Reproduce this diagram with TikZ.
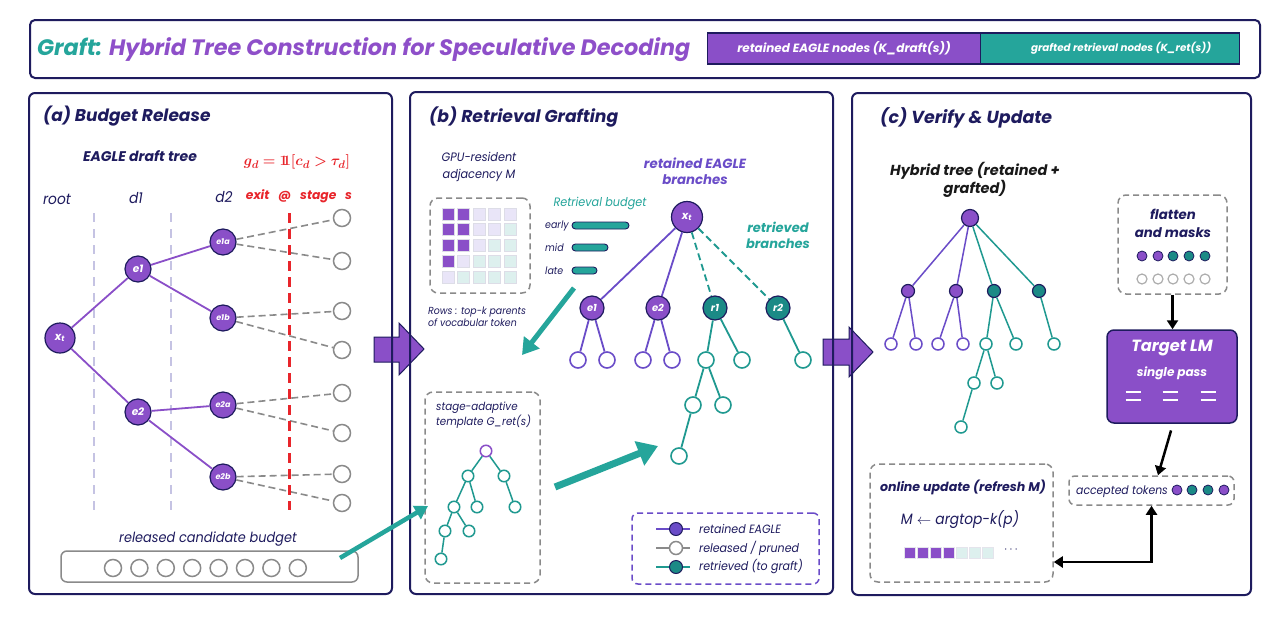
\documentclass[tikz,border=0pt]{standalone}
\usepackage{fontspec}
\setmainfont{Poppins}[ItalicFeatures={FakeStretch=0.92}]
\usepackage{amsmath,bm}
\usetikzlibrary{arrows.meta,calc}
\definecolor{navy}{HTML}{1E1B5E}
\definecolor{purp}{HTML}{8A4FC8}
\definecolor{bpurp}{HTML}{6A4CC8}
\definecolor{tealA}{HTML}{25A59B}
\definecolor{tealD}{HTML}{1B8A86}
\definecolor{tealE}{HTML}{1F9990}
\definecolor{gry}{HTML}{8A8A8A}
\definecolor{redx}{HTML}{E8252B}
\definecolor{dashv}{HTML}{C5C3E3}
\definecolor{lav}{HTML}{E9E5F8}
\definecolor{lteal}{HTML}{DDF0EE}
\definecolor{titlepurp}{HTML}{8E4FC9}
\newcommand\fs[2]{\fontsize{#1}{#2}\selectfont}
\begin{document}
\begin{tikzpicture}[x=1pt,y=-1pt,
 panel/.style={draw=navy, line width=2, rounded corners=6},
 pn/.style={circle, fill=purp, draw=navy, line width=1.2, inner sep=0, minimum size=26, text=white, font=\fs{9}{9}\bfseries\itshape},
 tn/.style={pn, fill=tealD},
 gl/.style={circle, draw=gry, fill=white, line width=1.5, inner sep=0, minimum size=17},
 pl/.style={circle, draw=bpurp, fill=white, line width=1.6, inner sep=0, minimum size=16},
 tl/.style={pl, draw=tealE},
 pe/.style={draw=purp, line width=1.8},
 be/.style={draw=bpurp, line width=1.8},
 te/.style={draw=tealE, line width=1.8},
 ge/.style={draw=gry, line width=1.6, dash pattern=on 7pt off 4pt},
 dbox/.style={draw=gry, line width=1.5, dash pattern=on 6pt off 4pt, rounded corners=8},
 lbl/.style={inner sep=0, text=navy},
 blk/.style={draw=black, line width=2.5, -{Triangle[length=9pt,width=11pt]}},
 cell/.style={draw=navy!15, line width=0.6, minimum size=12, inner sep=0},
]
\useasboundingbox (0,0) rectangle (1272,616);
\fill[white] (0,0) rectangle (1272,616);

% ---------- title bar
\draw[navy, line width=2, rounded corners=5] (30,20) rectangle (1260,78);
\node[anchor=west, inner sep=0, font=\fs{22.3}{26}\bfseries\itshape] (title) at (37,50)
 {\textcolor{tealA}{Graft:} \textcolor{titlepurp}{Hybrid Tree Construction for Speculative Decoding}};
\node[draw=navy, fill=purp, line width=1.2, minimum width=273, minimum height=31, anchor=west, inner sep=0,
  text=white, font=\fs{12}{14}\bfseries\itshape] (kd) at (707,48.5) {retained EAGLE nodes (K\_draft(s))};
\node[draw=navy, fill=tealA, line width=1.2, minimum width=259, minimum height=31, anchor=west, inner sep=0,
  text=white, font=\fs{10.3}{13}\bfseries\itshape] (kr) at (980,48.5) {\hspace*{22pt}grafted retrieval nodes (K\_ret(s))};

% ---------- block arrows (under panel borders)
\fill[purp] (374,337) -- (399,337) -- (399,323) -- (424,349) -- (399,375) -- (399,362) -- (374,362) -- cycle;
\draw[navy, line width=1] (374,337) -- (399,337) -- (399,323) -- (424,349) -- (399,375) -- (399,362) -- (374,362) -- cycle;
\fill[purp] (823,339) -- (849,339) -- (849,327) -- (873,352) -- (849,377) -- (849,365) -- (823,365) -- cycle;
\draw[navy, line width=1] (823,339) -- (849,339) -- (849,327) -- (873,352) -- (849,377) -- (849,365) -- (823,365) -- cycle;

% ---------- panels
\draw[panel] (29,93) rectangle (392,594);
\draw[panel] (410,92) rectangle (833,594);
\draw[panel] (852,93) rectangle (1251,595);

% ================= (a)
\node[lbl, anchor=west, font=\fs{17}{20}\bfseries\itshape] (ta) at (43,116) {(a) Budget Release};
\node[lbl, font=\fs{14}{17}\bfseries\itshape] (eag) at (140,156) {EAGLE draft tree};
\node[lbl, text=redx, font=\fs{15}{17}] (gd) at (297,162) {$\bm{g_d = 1\!\!1[c_d > \tau_d]}$};
\node[lbl, font=\fs{15}{17}\itshape] (lroot) at (57,199) {root};
\node[lbl, font=\fs{15}{17}\itshape] (ld1) at (136,198) {d1};
\node[lbl, font=\fs{15}{17}\itshape] (ld2) at (224,197) {d2};
\node[lbl, text=redx, font=\fs{12.3}{15}\bfseries\itshape] (lexit) at (299,196) {exit\hspace{6pt} @\hspace{6pt} stage\hspace{6pt} s};

\draw[dashv, line width=2.5, dash pattern=on 9pt off 7pt] (94,213) -- (94,510);
\draw[dashv, line width=2.5, dash pattern=on 9pt off 7pt] (171,213) -- (171,510);

\node[pn, minimum size=30, font=\fs{11}{11}\bfseries\itshape] (axt) at (60,338) {x\textsubscript{t}};
\node[pn, font=\fs{10.5}{10}\bfseries\itshape] (ae1) at (138,269) {e1};
\node[pn, font=\fs{10.5}{10}\bfseries\itshape] (ae2) at (138,412) {e2};
\node[pn, font=\fs{8}{8}\bfseries\itshape] (ae1a) at (223,242) {e1a};
\node[pn, font=\fs{8}{8}\bfseries\itshape] (ae1b) at (223,318) {e1b};
\node[pn, font=\fs{8}{8}\bfseries\itshape] (ae2a) at (223,405) {e2a};
\node[pn, font=\fs{8}{8}\bfseries\itshape] (ae2b) at (223,477) {e2b};
\foreach \i/\y in {1/218,2/261,3/311,4/350,5/393,6/433,7/474,8/503}
  \node[gl] (g\i) at (342,\y) {};
\draw[pe] (axt) -- (ae1); \draw[pe] (axt) -- (ae2);
\draw[pe] (ae1) -- (ae1a); \draw[pe] (ae1) -- (ae1b);
\draw[pe] (ae2) -- (ae2a); \draw[pe] (ae2) -- (ae2b);
\draw[ge] (ae1a) -- (g1); \draw[ge] (ae1a) -- (g2);
\draw[ge] (ae1b) -- (g3); \draw[ge] (ae1b) -- (g4);
\draw[ge] (ae2a) -- (g5); \draw[ge] (ae2a) -- (g6);
\draw[ge] (ae2b) -- (g7); \draw[ge] (ae2b) -- (g8);
\draw[redx, line width=3, dash pattern=on 10pt off 6pt] (289,213) -- (289,510);

\node[lbl, font=\fs{14}{16}\itshape] (lrel) at (208,539) {released candidate budget};
\node[draw=gry, line width=1.5, rounded corners=6, minimum width=297, minimum height=31, inner sep=0] (budget) at (209.5,566.5) {};
\foreach \i in {0,...,7}
  \node[gl] (b\i) at ({113+26.4*\i},568) {};

% ================= (b)
\node[lbl, anchor=west, font=\fs{17.2}{20}\bfseries\itshape] (tb) at (429,117) {(b) Retrieval Grafting};
\node[lbl, align=center, font=\fs{12.2}{17}\itshape] (gpu) at (479,167) {GPU-resident\\adjacency M};
\node[dbox, minimum width=100, minimum height=95, inner sep=0] (mbox) at (480,245.5) {};
\foreach \r/\a/\b/\c/\d/\e in {1/purp/purp/lav/lav/lav,2/purp/purp/lav/lav/lteal,3/purp/purp/lav/lteal/lteal,4/purp/lav/lteal/lteal/lteal,5/lav/lteal/lteal/lteal/lteal}{
  \node[cell, fill=\a] (m\r a) at (448,{214+15.7*(\r-1)}) {};
  \node[cell, fill=\b] (m\r b) at (463.5,{214+15.7*(\r-1)}) {};
  \node[cell, fill=\c] (m\r c) at (479,{214+15.7*(\r-1)}) {};
  \node[cell, fill=\d] (m\r d) at (494.5,{214+15.7*(\r-1)}) {};
  \node[cell, fill=\e] (m\r e) at (510,{214+15.7*(\r-1)}) {};
}
\node[lbl, anchor=west, align=left, font=\fs{10.2}{12.5}\itshape] (rows) at (428,317) {Rows : top-k parents\\of vocabular token};

\node[lbl, text=tealA, font=\fs{12.2}{15}\itshape] (rb) at (600,204) {Retrieval budget};
\node[lbl, anchor=west, font=\fs{10.3}{13}\itshape] (learly) at (545,226) {early};
\node[lbl, anchor=west, font=\fs{10.3}{13}\itshape] (lmid) at (545,248) {mid};
\node[lbl, anchor=west, font=\fs{10.3}{13}\itshape] (llate) at (545,271) {late};
\draw[fill=tealA, draw=navy, line width=0.9, rounded corners=3.5] (572,222) rectangle (629,229);
\draw[fill=tealA, draw=navy, line width=0.9, rounded corners=3.5] (572,244) rectangle (608,251);
\draw[fill=tealA, draw=navy, line width=0.9, rounded corners=3.5] (572,267) rectangle (597,274);

\node[lbl, text=bpurp, align=center, font=\fs{13.3}{16}\bfseries\itshape] (ret) at (695,171) {retained EAGLE\\branches};
\node[lbl, text=tealA, align=center, font=\fs{13}{16}\bfseries\itshape] (retr) at (778,235) {retrieved\\branches};

\node[pn, minimum size=31, font=\fs{11}{11}\bfseries\itshape] (bxt) at (687,217) {x\textsubscript{t}};
\node[pn, minimum size=24, font=\fs{10}{10}\bfseries\itshape] (be1) at (592,308) {e1};
\node[pn, minimum size=24, font=\fs{10}{10}\bfseries\itshape] (be2) at (658,308) {e2};
\node[tn, minimum size=24, font=\fs{10}{10}\bfseries\itshape] (br1) at (715,308) {r1};
\node[tn, minimum size=24, font=\fs{10}{10}\bfseries\itshape] (br2) at (778,308) {r2};
\node[pl] (bl1) at (578,360) {};
\node[pl] (bl2) at (607,360) {};
\node[pl] (bl3) at (643,360) {};
\node[pl] (bl4) at (672,360) {};
\node[tl] (bl5) at (706,360) {};
\node[tl] (bl6) at (742,360) {};
\node[tl] (bl7) at (803,360) {};
\node[tl] (bl8) at (693,405) {};
\node[tl] (bl9) at (723,405) {};
\node[tl] (bl10) at (679,456) {};
\draw[be] (bxt) -- (be1); \draw[be] (bxt) -- (be2);
\draw[te, dash pattern=on 7pt off 4pt] (bxt) -- (br1);
\draw[te, dash pattern=on 7pt off 4pt] (bxt) -- (br2);
\draw[be] (be1) -- (bl1); \draw[be] (be1) -- (bl2);
\draw[be] (be2) -- (bl3); \draw[be] (be2) -- (bl4);
\draw[te] (br1) -- (bl5); \draw[te] (br1) -- (bl6);
\draw[te] (br2) -- (bl7);
\draw[te] (bl5) -- (bl8); \draw[te] (bl5) -- (bl9);
\draw[te] (bl8) -- (bl10);

% template
\node[dbox, minimum width=115, minimum height=191, inner sep=0] (tpl) at (482.5,487.5) {};
\node[lbl, anchor=west, align=left, font=\fs{11.2}{15}\itshape] (tpltxt) at (436,415.5) {stage-adaptive\\template G\_ret(s)};
\begin{scope}[every node/.style={circle, draw=tealE, fill=white, line width=1.5, inner sep=0, minimum size=11.5}]
\node[draw=purp] (tt0) at (486,451) {};
\node (tt1) at (468,476) {};
\node (tt2) at (504,476) {};
\node (tt3) at (454,507) {};
\node (tt4) at (477,507) {};
\node (tt5) at (515,507) {};
\node (tt6) at (445,531) {};
\node (tt7) at (469,531) {};
\node (tt8) at (441,559) {};
\end{scope}
\foreach \a/\b in {tt0/tt1,tt0/tt2,tt1/tt3,tt1/tt4,tt2/tt5,tt3/tt6,tt3/tt7,tt6/tt8}
  \draw[te, line width=1.5] (\a) -- (\b);

% teal arrows
\coordinate (budOut) at (340,558);
\coordinate (tplIn) at (428,506);
\draw[tealA, line width=4.5, -{Triangle[length=13pt,width=15pt]}] (budOut) -- (tplIn);
\coordinate (rbOut) at (574,288);
\coordinate (rbIn) at (522,355);
\draw[tealA, line width=5, -{Triangle[length=16pt,width=19pt]}] (rbOut) -- (rbIn);
\coordinate (tplOut) at (555,487);
\coordinate (graftIn) at (658,446);
\draw[tealA, line width=7, -{Triangle[length=20pt,width=25pt]}] (tplOut) -- (graftIn);

% legend
\node[draw=bpurp, line width=1.5, dash pattern=on 6pt off 4pt, rounded corners=6, minimum width=187, minimum height=71, inner sep=0] (leg) at (725.5,548.5) {};
\draw[bpurp, line width=1.8] (656,529) -- (690,529);
\node[circle, fill=bpurp, draw=navy, line width=1, minimum size=13, inner sep=0] (lg1) at (676,529) {};
\draw[gry, line width=1.8] (656,548) -- (690,548);
\node[circle, fill=white, draw=gry, line width=1.5, minimum size=13, inner sep=0] (lg2) at (676,548) {};
\draw[tealE, line width=1.8] (656,567) -- (690,567);
\node[circle, fill=tealD, draw=navy, line width=1, minimum size=13, inner sep=0] (lg3) at (676,567) {};
\node[lbl, anchor=west, font=\fs{12}{14}\itshape] (lt1) at (699,529) {retained EAGLE};
\node[lbl, anchor=west, font=\fs{12}{14}\itshape] (lt2) at (699,548) {released / pruned};
\node[lbl, anchor=west, font=\fs{12}{14}\itshape] (lt3) at (699,567) {retrieved (to graft)};

% ================= (c)
\node[lbl, anchor=west, font=\fs{17.4}{20}\bfseries\itshape] (tc) at (880,118) {(c) Verify \& Update};
\node[lbl, text=black!90, align=center, font=\fs{14.5}{18}\bfseries\itshape] (hyb) at (975,180) {Hybrid tree (retained +\\grafted)};
\node[pn, minimum size=17] (hroot) at (970,218) {};
\node[pn, minimum size=13] (hc1) at (908,291) {};
\node[pn, minimum size=13] (hc2) at (956,291) {};
\node[tn, minimum size=13] (hc3) at (994,291) {};
\node[tn, minimum size=13] (hc4) at (1039,291) {};
\begin{scope}[every node/.style={circle, fill=white, line width=1.5, inner sep=0, minimum size=12}]
\node[draw=bpurp] (hl1) at (891,344) {};
\node[draw=bpurp] (hl2) at (916,344) {};
\node[draw=bpurp] (hl3) at (938,344) {};
\node[draw=bpurp] (hl4) at (963,344) {};
\node[draw=tealE] (hl5) at (986,344) {};
\node[draw=tealE] (hl6) at (1016,344) {};
\node[draw=tealE] (hl7) at (1054,344) {};
\node[draw=tealE] (hl8) at (974,383) {};
\node[draw=tealE] (hl9) at (997,383) {};
\node[draw=tealE] (hl10) at (961,427) {};
\end{scope}
\foreach \a/\b in {hroot/hc1,hroot/hc2,hc1/hl1,hc1/hl2,hc2/hl3,hc2/hl4}
  \draw[be, line width=1.5] (\a) -- (\b);
\foreach \a/\b in {hroot/hc3,hroot/hc4,hc3/hl5,hc3/hl6,hc4/hl7,hl5/hl8,hl5/hl9,hl8/hl10}
  \draw[te, line width=1.5] (\a) -- (\b);

% flatten box
\node[dbox, minimum width=109, minimum height=99, inner sep=0] (flat) at (1172.5,244.5) {};
\node[lbl, align=center, font=\fs{13.3}{18}\bfseries\itshape] (flt) at (1173,223) {flatten\\and masks};
\foreach \x/\c [count=\i] in {1142/purp,1158/purp,1173/tealD,1189/tealD,1205/tealD}{
  \node[circle, fill=\c, draw=navy, line width=0.8, minimum size=10, inner sep=0] (fd\i) at (\x,256) {};
  \node[circle, fill=white, draw=gry!70, line width=1.2, minimum size=10, inner sep=0] (fe\i) at (\x,279) {};
}

% Target LM
\node[fill=purp, draw=navy, line width=1.5, rounded corners=7, minimum width=130, minimum height=93, inner sep=0] (tlm) at (1172,376.5) {};
\node[lbl, text=white, font=\fs{16.2}{20}\bfseries\itshape] (tlmt) at (1172,348) {Target LM};
\node[lbl, text=white, font=\fs{12.1}{15}\bfseries\itshape] (tlms) at (1172,373) {single pass};
\foreach \x in {1133,1170,1208}{
  \draw[white, line width=2.5] (\x-7.5,392) -- (\x+7.5,392);
  \draw[white, line width=2.5] (\x-7.5,400) -- (\x+7.5,400);
}
\draw[blk] (flat.south) -- (flat.south |- tlm.north);

% accepted tokens
\node[dbox, rounded corners=6, minimum width=165, minimum height=29, inner sep=0] (acc) at (1151.5,490.5) {};
\node[lbl, anchor=west, font=\fs{11.8}{13}\itshape] (acct) at (1076,492) {accepted tokens};
\foreach \x/\c [count=\i] in {1177/purp,1192/tealD,1208/tealD,1224/purp}
  \node[circle, fill=\c, draw=navy, line width=0.8, minimum size=10, inner sep=0] (ad\i) at (\x,490) {};
\draw[blk, shorten <=7pt] ([xshift=1]tlm.south) -- ([xshift=6.5]acc.north);

% online update
\node[dbox, minimum width=183, minimum height=118, inner sep=0] (onl) at (961.5,523) {};
\node[lbl, font=\fs{12.6}{15}\bfseries\itshape] (onlt) at (963,487) {online update (refresh M)};
\node[lbl, font=\fs{15}{18}\itshape] (onlm) at (960,520) {M $\leftarrow$ argtop-k(p)};
\foreach \c [count=\i] in {purp,purp,purp,purp,lteal,lteal,lteal}
  \node[draw=navy!12, fill=\c, line width=0.6, minimum size=11, inner sep=0] (sq\i) at ({909.5+13*(\i-1)},553) {};
\node[lbl, font=\fs{12}{14}] (dots) at (1012,550) {$\cdots$};
\draw[draw=black, line width=2.5, {Triangle[length=9pt,width=11pt]}-{Triangle[length=9pt,width=11pt]}]
  (acc.south) |- (onl.east |- 0,562);
\end{tikzpicture}
\end{document}
